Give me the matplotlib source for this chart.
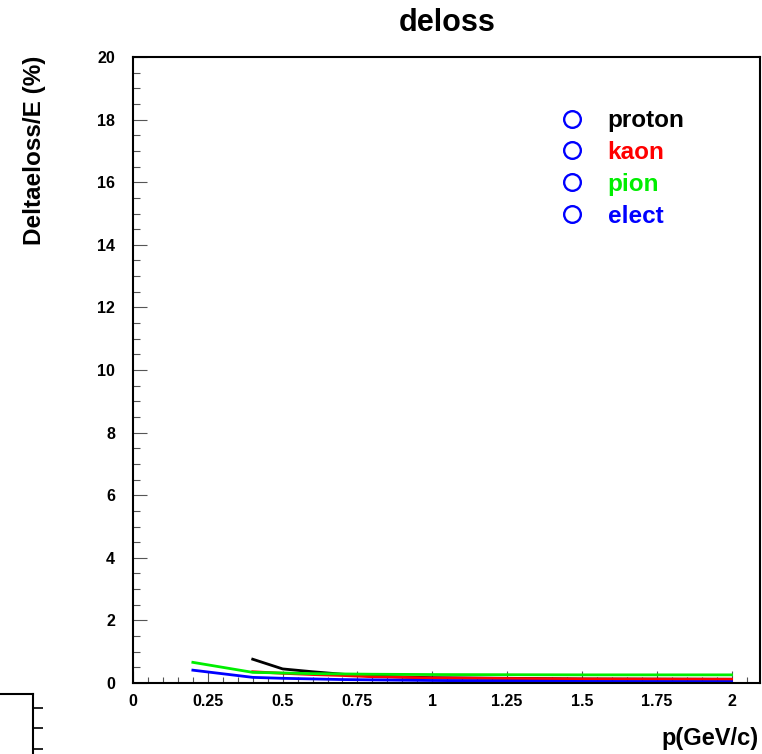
import matplotlib
matplotlib.use("Agg")
import matplotlib.pyplot as plt
from matplotlib.ticker import MultipleLocator, FuncFormatter

plt.rcParams['font.family'] = ['Liberation Sans', 'DejaVu Sans']
plt.rcParams['font.weight'] = 'bold'

# ---- data ----
p_proton = [0.4, 0.5, 0.6, 0.7, 0.8, 1.0, 1.5, 2.0]
proton = [0.76, 0.45, 0.36, 0.28, 0.22, 0.17, 0.13, 0.12]
p_kaon = [0.4, 0.5, 0.6, 0.7, 0.8, 1.0, 1.5, 2.0]
kaon = [0.36, 0.31, 0.27, 0.24, 0.20, 0.16, 0.13, 0.12]
p_pion = [0.2, 0.4, 0.5, 0.6, 0.7, 0.8, 1.0, 1.5, 2.0]
pion = [0.66, 0.34, 0.32, 0.30, 0.29, 0.28, 0.27, 0.26, 0.26]
p_elect = [0.2, 0.4, 0.5, 0.6, 0.7, 0.8, 1.0, 1.5, 2.0]
elect = [0.41, 0.18, 0.15, 0.13, 0.11, 0.10, 0.08, 0.05, 0.04]

series_names = ["proton", "kaon", "pion", "elect"]
series_colors = ["black", "red", "#00ee00", "blue"]
xticks = [0, 0.25, 0.5, 0.75, 1, 1.25, 1.5, 1.75, 2]
yticks = [0, 2, 4, 6, 8, 10, 12, 14, 16, 18, 20]

W, H = 762, 754
fig = plt.figure(figsize=(W / 100, H / 100), dpi=100)
ax = fig.add_axes([133 / W, 1 - 683 / H, (760 - 133) / W, (683 - 57) / H])

for xs, ys, c in zip([p_proton, p_kaon, p_pion, p_elect],
                     [proton, kaon, pion, elect], series_colors):
    ax.plot(xs, ys, color=c, lw=2.0)

ax.set_xlim(0, 2.095)
ax.set_ylim(0, 20)
ax.set_xticks(xticks)
ax.set_yticks(yticks)
ax.xaxis.set_minor_locator(MultipleLocator(0.05))
ax.yaxis.set_minor_locator(MultipleLocator(0.5))
ax.xaxis.set_major_formatter(FuncFormatter(lambda v, p: ('%g' % v)))
ax.tick_params(axis='both', which='both', direction='in', width=0.8,
               color='#555555', labelsize=11.5)
ax.tick_params(axis='y', which='major', length=10, pad=13)
ax.tick_params(axis='y', which='minor', length=5)
ax.tick_params(axis='x', which='major', length=9, pad=8)
ax.tick_params(axis='x', which='minor', length=4.5)
for lab in ax.get_xticklabels() + ax.get_yticklabels():
    lab.set_fontweight('bold')
for s in ax.spines.values():
    s.set_linewidth(1.5)

# legend (manual, ROOT style)
leg_y = [0.901, 0.851, 0.800, 0.749]
for name, c, yy in zip(series_names, series_colors, leg_y):
    ax.plot([0.700], [yy], marker='o', ms=12, mfc='none', mec='blue', mew=1.7,
            transform=ax.transAxes, clip_on=False)
    ax.text(0.757, yy - 0.003, name, color=c, fontsize=17.5, fontweight='bold',
            transform=ax.transAxes, ha='left', va='center')

fig.text(447 / W, 1 - 23 / H, "deloss", fontsize=22, fontweight='bold',
         ha='center', va='center')
fig.text(35 / W, 1 - 56 / H, "Deltaeloss/E (%)", fontsize=17.5, fontweight='bold',
         rotation=90, ha='center', va='top')
fig.text(759 / W, 1 - 738 / H, "p(GeV/c)", fontsize=17, fontweight='bold',
         ha='right', va='center')

# partial frame of an adjacent pad at bottom-left
ax2 = fig.add_axes([0, 0, 33 / W, 60 / H])
ax2.set_xlim(0, 1)
ax2.set_ylim(0, 60)
for k in ['left', 'bottom']:
    ax2.spines[k].set_visible(False)
ax2.spines['top'].set_linewidth(1.5)
ax2.spines['right'].set_linewidth(1.5)
ax2.set_xticks([])
ax2.yaxis.tick_right()
ax2.set_yticks([46, 26, 5])
ax2.set_yticklabels([])
ax2.tick_params(axis='y', direction='out', length=7, width=1.2)
ax2.patch.set_alpha(0)

fig.savefig("out.png", dpi=100)
